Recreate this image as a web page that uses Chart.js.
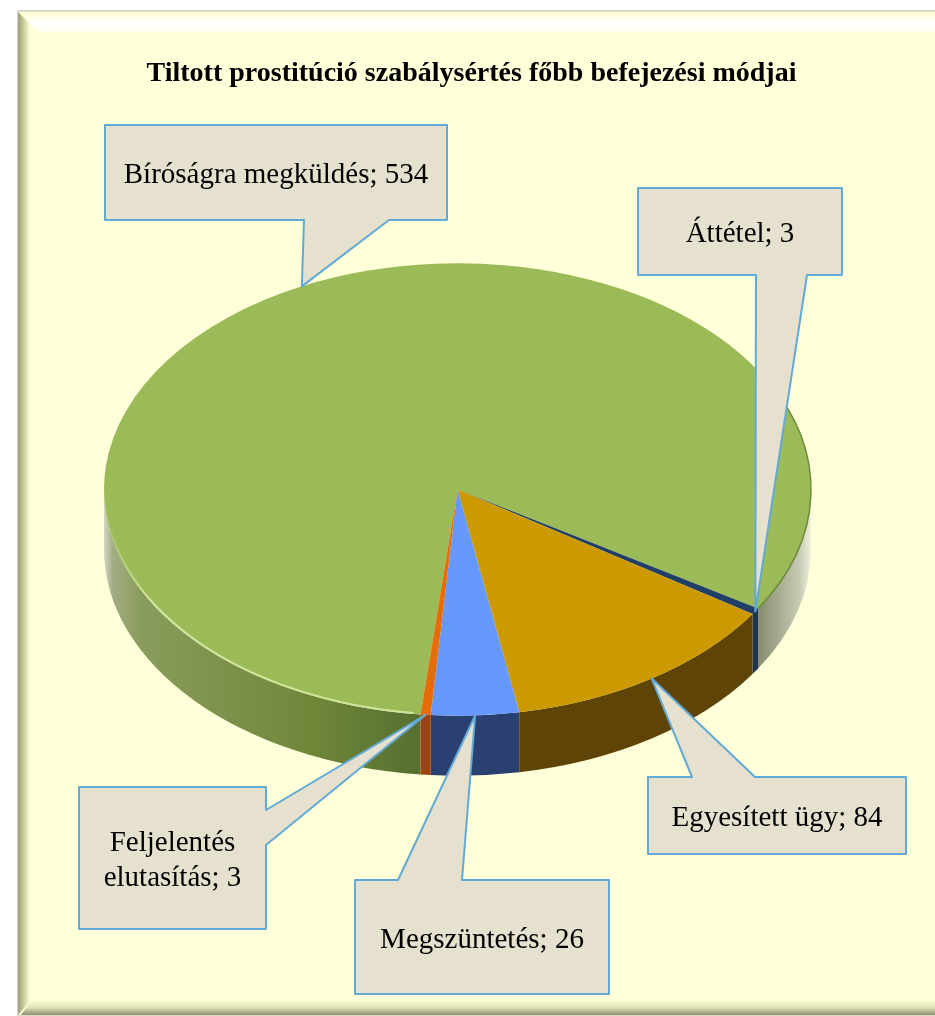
<!DOCTYPE html>
<html lang="hu">
<head>
<meta charset="utf-8">
<title>Tiltott prostitúció szabálysértés</title>
<script src="https://cdn.jsdelivr.net/npm/chart.js@4/dist/chart.umd.min.js"></script>
<style>
html, body { margin: 0; padding: 0; background: #fff; overflow: hidden; }
canvas { display: block; }
</style>
</head>
<body>
<canvas id="myChart" width="935" height="1016"></canvas>
<script>
const categories = ['Bíróságra megküldés', 'Áttétel', 'Egyesített ügy', 'Megszüntetés', 'Feljelentés elutasítás'];
const counts = [534, 3, 84, 26, 3];
const chartTitle = 'Tiltott prostitúció szabálysértés főbb befejezési módjai';

const sliceColors = ['#9BBB59', '#1F3F66', '#CC9900', '#6699FF', '#E46C0A'];
const squash = 0.64;   // pie is drawn flat, then squeezed to look tilted
const depth = 60;
const labelFont = '29px "Liberation Serif"';

// boxes around the labels, the pointer tip comes from the slice itself
const callouts = [
    { box: [105, 125, 342, 95], side: 'bottom', base: [304, 389] },
    { box: [638, 188, 204, 87], side: 'bottom', base: [756, 807] },
    { box: [648, 777, 258, 77], side: 'top', base: [692, 755] },
    { box: [355, 880, 254, 114], side: 'top', base: [398, 462] },
    { box: [79, 787, 187, 142], side: 'right', base: [810, 845] }
];

function sideColors(i, ctx, x, r) {
    const g = ctx.createLinearGradient(x - r, 0, x + r, 0);
    if (i === 0) {
        g.addColorStop(0, '#d4d8c4');
        g.addColorStop(0.012, '#a3ad86');
        g.addColorStop(0.05, '#8a9c5c');
        g.addColorStop(0.3, '#6f8639');
        g.addColorStop(0.45, '#566f30');
        g.addColorStop(0.5, '#4f6a2e');
        g.addColorStop(0.83, '#505c36');
        g.addColorStop(0.93, '#8b9274');
        g.addColorStop(0.985, '#c9ccb6');
        g.addColorStop(1, '#f1f1dc');
        return g;
    }
    return ['', '#1E3350', '#5E4407', '#2A4070', '#9A4510'][i];
}

const pie3d = {
    id: 'pie3d',
    beforeDraw(chart) {
        const ctx = chart.ctx;
        const W = chart.width, H = chart.height;
        const L = 18, T = 12, B = 1015;
        ctx.save();
        ctx.fillStyle = '#D9D9D0';
        ctx.fillRect(L - 1, T - 2, W, H);
        ctx.fillStyle = '#FFFFD9';
        ctx.fillRect(L, T, W, B - T);

        // top bevel
        let g = ctx.createLinearGradient(0, T, 0, T + 22);
        g.addColorStop(0, '#FDFDCF');
        g.addColorStop(0.3, '#FFFFE8');
        g.addColorStop(0.45, '#FFFFFF');
        g.addColorStop(0.8, '#FFFFF5');
        g.addColorStop(1, '#FFFFD9');
        ctx.fillStyle = g;
        ctx.beginPath();
        ctx.moveTo(L, T);
        ctx.lineTo(W, T);
        ctx.lineTo(W, T + 22);
        ctx.lineTo(L + 22, T + 22);
        ctx.closePath();
        ctx.fill();

        // left bevel
        g = ctx.createLinearGradient(L, 0, L + 12, 0);
        g.addColorStop(0, '#9C9C78');
        g.addColorStop(0.5, '#CFCF9F');
        g.addColorStop(1, '#FFFFD9');
        ctx.fillStyle = g;
        ctx.beginPath();
        ctx.moveTo(L, T);
        ctx.lineTo(L + 12, T + 12);
        ctx.lineTo(L + 12, B - 14);
        ctx.lineTo(L, B);
        ctx.closePath();
        ctx.fill();

        // bottom bevel
        g = ctx.createLinearGradient(0, B - 16, 0, B);
        g.addColorStop(0, '#FFFFD9');
        g.addColorStop(0.5, '#E6E6BC');
        g.addColorStop(1, '#8E8E72');
        ctx.fillStyle = g;
        ctx.beginPath();
        ctx.moveTo(L + 3, B);
        ctx.lineTo(L + 14, B - 16);
        ctx.lineTo(W, B - 16);
        ctx.lineTo(W, B);
        ctx.closePath();
        ctx.fill();
        ctx.restore();
    },
    afterLayout(chart) {
        // the title sits a bit right of the pie centre
        chart.titleBlock.left += 14;
        chart.titleBlock.right += 14;
    },
    beforeDatasetsDraw(chart) {
        const ctx = chart.ctx;
        chart.getDatasetMeta(0).data.forEach((arc, i) => {
            const r = arc.outerRadius;
            const ry = r * squash;
            [-2 * Math.PI, 0, 2 * Math.PI].forEach(shift => {
                const a = Math.max(arc.startAngle + shift, 0);
                const b = Math.min(arc.endAngle + shift, Math.PI);
                if (a >= b) return;
                ctx.beginPath();
                ctx.ellipse(arc.x, arc.y, r, ry, 0, a, b);
                ctx.ellipse(arc.x, arc.y + depth, r, ry, 0, b, a, true);
                ctx.closePath();
                ctx.fillStyle = sideColors(i, ctx, arc.x, r);
                ctx.fill();
            });
        });
    },
    beforeDatasetDraw(chart) {
        const arc = chart.getDatasetMeta(0).data[0];
        const ctx = chart.ctx;
        ctx.save();
        ctx.translate(arc.x, arc.y);
        ctx.scale(1, squash);
        ctx.translate(-arc.x, -arc.y);
    },
    afterDatasetDraw(chart) {
        chart.ctx.restore();
    },
    afterDatasetsDraw(chart) {
        const ctx = chart.ctx;
        const arcs = chart.getDatasetMeta(0).data;
        const main = arcs[0];
        const r = main.outerRadius, ry = r * squash;

        // light rim on the front of the big slice
        const rim = ctx.createLinearGradient(main.x - r, 0, main.x - 30, 0);
        rim.addColorStop(0, 'rgba(210,230,150,0)');
        rim.addColorStop(0.15, '#D3E6A0');
        rim.addColorStop(1, '#CFE49A');
        ctx.strokeStyle = rim;
        ctx.lineWidth = 2;
        ctx.beginPath();
        ctx.ellipse(main.x, main.y, r - 1, ry - 1, 0, main.startAngle + 0.02, Math.PI);
        ctx.stroke();
        ctx.strokeStyle = '#6E8A3C';
        ctx.lineWidth = 1.5;
        ctx.beginPath();
        ctx.ellipse(main.x, main.y, r, ry, 0, -0.5, main.endAngle - 2 * Math.PI);
        ctx.stroke();

        // callouts
        arcs.forEach((arc, i) => {
            const mid = (arc.startAngle + arc.endAngle) / 2;
            const tipX = arc.x + r * Math.cos(mid);
            const tipY = arc.y + ry * Math.sin(mid);
            const c = callouts[i];
            const [x, y, w, h] = c.box;
            ctx.beginPath();
            ctx.moveTo(x, y);
            if (c.side === 'top') {
                ctx.lineTo(c.base[0], y);
                ctx.lineTo(tipX, tipY);
                ctx.lineTo(c.base[1], y);
            }
            ctx.lineTo(x + w, y);
            if (c.side === 'right') {
                ctx.lineTo(x + w, c.base[0]);
                ctx.lineTo(tipX, tipY);
                ctx.lineTo(x + w, c.base[1]);
            }
            ctx.lineTo(x + w, y + h);
            if (c.side === 'bottom') {
                ctx.lineTo(c.base[1], y + h);
                ctx.lineTo(tipX, tipY);
                ctx.lineTo(c.base[0], y + h);
            }
            ctx.lineTo(x, y + h);
            ctx.closePath();
            ctx.fillStyle = '#E5E1CE';
            ctx.fill();
            ctx.strokeStyle = '#62AAD6';
            ctx.lineWidth = 2;
            ctx.lineJoin = 'round';
            ctx.stroke();

            ctx.fillStyle = '#000';
            ctx.font = labelFont;
            ctx.textAlign = 'center';
            ctx.textBaseline = 'middle';
            const text = `${categories[i]}; ${counts[i]}`;
            const lines = wrap(ctx, text, w - 14);
            lines.forEach((line, n) => {
                ctx.fillText(line, x + w / 2, y + h / 2 + 3 + (n - (lines.length - 1) / 2) * 35);
            });
        });
    }
};

function wrap(ctx, text, maxWidth) {
    const lines = [];
    let cur = '';
    text.split(' ').forEach(word => {
        const next = cur ? cur + ' ' + word : word;
        if (cur && ctx.measureText(next).width > maxWidth) {
            lines.push(cur);
            cur = word;
        } else {
            cur = next;
        }
    });
    lines.push(cur);
    return lines;
}

const myChart = new Chart(document.getElementById('myChart').getContext('2d'), {
    type: 'pie',
    data: {
        labels: categories,
        datasets: [{
            data: counts,
            backgroundColor: sliceColors,
            borderWidth: 0
        }]
    },
    options: {
        responsive: false,
        animation: false,
        rotation: 186,
        layout: { padding: { left: 104, right: 124, top: 0, bottom: 173 } },
        plugins: {
            legend: { display: false },
            tooltip: { enabled: false },
            title: {
                display: true,
                text: chartTitle,
                color: '#000',
                font: { family: '"Liberation Serif"', size: 28, weight: 'bold', lineHeight: 1.2 },
                padding: { top: 57, bottom: 45.4 }
            }
        }
    },
    plugins: [pie3d]
});
</script>
</body>
</html>
